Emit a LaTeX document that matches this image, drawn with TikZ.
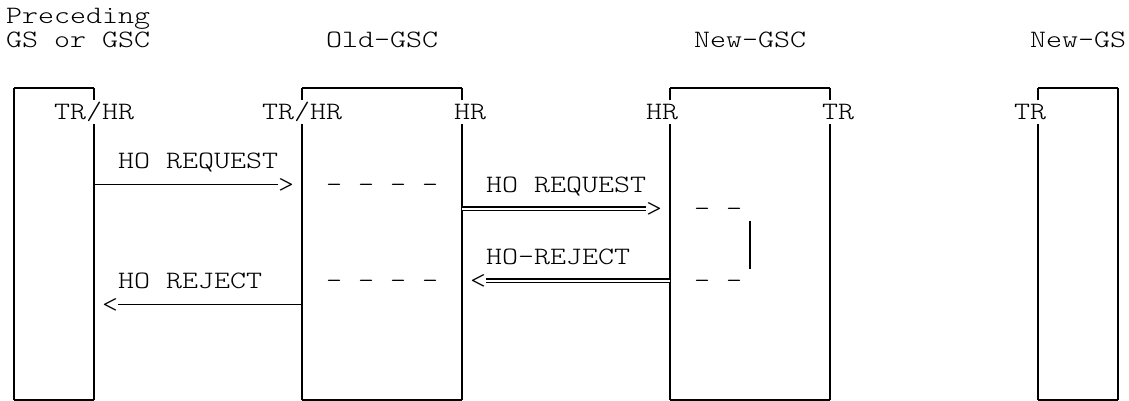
\documentclass[tikz,border=0pt]{standalone}
\usepackage{fontspec}
\newfontfamily\monofam{Latin Modern Mono Light}
\newcommand\sqz[1]{\scalebox{1}[0.82]{#1}}
\tikzset{
  txt/.style={inner sep=0pt, outer sep=0pt, anchor=base west,
    font=\monofam\fontsize{30.48pt}{24pt}\selectfont},
  boxline/.style={line width=2pt, black},
  msg/.style={line width=1.8pt, black},
  dmsg/.style={line width=1.6pt, double=white, double distance=2pt, black},
}
\begin{document}
\begin{tikzpicture}[x=1pt,y=-1pt]
\useasboundingbox (0,0) rectangle (1129,401);
% rows: center y = 16.5+24r ; baseline = center+7.5 ; col c left = 6+16c, center = 14+16c
\coordinate (r3) at (0,88.5);
\coordinate (r4t) at (0,100.5);
\coordinate (r4b) at (0,124.5);
\coordinate (r7) at (0,184.5);
\coordinate (r8) at (0,208.5);
\coordinate (r9t) at (0,220.5);
\coordinate (r10b) at (0,268.5);
\coordinate (r11) at (0,280.5);
\coordinate (r12) at (0,304.5);
\coordinate (rb) at (0,399.5);
% box columns
\coordinate (b1l) at (14,0);   \coordinate (b1r) at (94,0);
\coordinate (b2l) at (302,0);  \coordinate (b2r) at (462,0);
\coordinate (b3l) at (670,0);  \coordinate (b3r) at (830,0);
\coordinate (b4l) at (1038,0); \coordinate (b4r) at (1118,0);
\coordinate (c46) at (750,0);

% titles
\node[txt] (t0) at (6,24) {\sqz{Preceding}};
\node[txt] (t1) at (6,48) {\sqz{GS or GSC}};
\node[txt] (t2) at (326,48) {\sqz{Old-GSC}};
\node[txt] (t3) at (694,48) {\sqz{New-GSC}};
\node[txt] (t4) at (1030,48) {\sqz{New-GS}};

% port labels (row 4)
\node[txt] (p1) at (54,120) {\sqz{TR/HR}};
\node[txt] (p2) at (262,120) {\sqz{TR/HR}};
\node[txt] (p3) at (454,120) {\sqz{HR}};
\node[txt] (p4) at (646,120) {\sqz{HR}};
\node[txt] (p5) at (822,120) {\sqz{TR}};
\node[txt] (p6) at (1014,120) {\sqz{TR}};

% boxes
\foreach \l/\r/\gl/\gr in {b1l/b1r/0/1, b2l/b2r/1/1, b3l/b3r/1/1, b4l/b4r/1/0}{
  \draw[boxline] (\l |- r3) -- (\r |- r3);
  \ifnum\gl=1
    \draw[boxline] (\l |- r3) -- (\l |- r4t);
    \draw[boxline] (\l |- r4b) -- (\l |- rb);
  \else
    \draw[boxline] (\l |- r3) -- (\l |- rb);
  \fi
  \ifnum\gr=1
    \draw[boxline] (\r |- r3) -- (\r |- r4t);
    \draw[boxline] (\r |- r4b) -- (\r |- rb);
  \else
    \draw[boxline] (\r |- r3) -- (\r |- rb);
  \fi
  \draw[boxline] (\l |- rb) -- (\r |- rb);
}

% message 1: HO REQUEST (single line)
\node[txt] (m1) at (118,168) {\sqz{HO REQUEST}};
\node[txt] (g1) at (278,192) {\sqz{>}};
\draw[msg] (b1r |- r7) -- (g1.west |- r7);

% Old-GSC dashes
\node[txt] (d1) at (326,192) {\sqz{- - - -}};
\node[txt] (d2) at (326,288) {\sqz{- - - -}};

% message 2: HO REQUEST (double line)
\node[txt] (m2) at (486,192) {\sqz{HO REQUEST}};
\node[txt] (g2) at (646,216) {\sqz{>}};
\draw[dmsg] (b2r |- r8) -- (g2.west |- r8);

% New-GSC dashes and bar
\node[txt] (d3) at (694,216) {\sqz{- -}};
\node[txt] (d4) at (694,288) {\sqz{- -}};
\draw[boxline] (c46 |- r9t) -- (c46 |- r10b);

% message 3: HO-REJECT (double line)
\node[txt] (m3) at (486,264) {\sqz{HO-REJECT}};
\node[txt] (g3) at (470,288) {\sqz{<}};
\draw[dmsg] (b3l |- r11) -- (g3.east |- r11);

% message 4: HO REJECT (single line)
\node[txt] (m4) at (118,288) {\sqz{HO REJECT}};
\node[txt] (g4) at (102,312) {\sqz{<}};
\draw[msg] (b2l |- r12) -- (g4.east |- r12);
\end{tikzpicture}
\end{document}
